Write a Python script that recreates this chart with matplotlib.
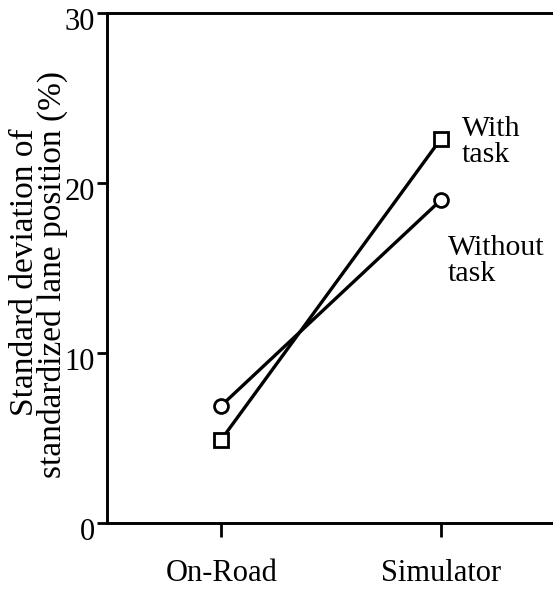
import matplotlib
matplotlib.use("Agg")
import matplotlib.pyplot as plt
from matplotlib.transforms import ScaledTranslation

conditions = ["On-Road", "Simulator"]
with_task = [4.9, 22.6]
without_task = [6.9, 19.0]
y_ticks = [0, 10, 20, 30]
ylabel_lines = ["Standard deviation of", "standardized lane position (%)"]

plt.rcParams['font.family'] = ['Liberation Serif', 'DejaVu Serif']

W, H, DPI = 553, 591, 100
fig = plt.figure(figsize=(W / DPI, H / DPI), dpi=DPI)
ax = fig.add_axes([0.1935, 0.1151, 0.8065, 0.8629])

x = list(range(len(conditions)))
ax.plot(x, without_task, color='black', lw=2.4, marker='o', markersize=10,
        markerfacecolor='white', markeredgecolor='black', markeredgewidth=2.0, zorder=3)
ax.plot(x, with_task, color='black', lw=2.4, marker='s', markersize=10.5,
        markerfacecolor='white', markeredgecolor='black', markeredgewidth=2.0, zorder=3)

ax.set_xlim(-0.52, 1.51)
ax.set_ylim(0, 30)
ax.set_xticks(x)
ax.set_xticklabels(conditions)
ax.set_yticks(y_ticks)

ax.spines['right'].set_visible(False)
for s in ['left', 'top', 'bottom']:
    ax.spines[s].set_linewidth(2.1)

ax.tick_params(axis='both', direction='out', width=2.0, labelsize=22)
ax.tick_params(axis='x', length=10, pad=16)
ax.tick_params(axis='y', length=7.5, pad=1)
for lab in ax.get_yticklabels():
    lab.set_transform(lab.get_transform() + ScaledTranslation(0, -0.06, fig.dpi_scale_trans))

ax.text(1.095, 22.4, "With\ntask", fontsize=21.5, va='center', ha='left', linespacing=1.0)
ax.text(1.03, 15.4, "Without\ntask", fontsize=21.5, va='center', ha='left', linespacing=1.0)

# two-line vertical axis title, each line placed on its own baseline
for line, x_base, y_mid in zip(ylabel_lines, (33, 61), (272, 275)):
    fig.text(x_base / W, 1 - y_mid / H, line, fontsize=24, rotation=90,
             rotation_mode='anchor', ha='center', va='baseline')

fig.savefig("out.png", dpi=DPI)
